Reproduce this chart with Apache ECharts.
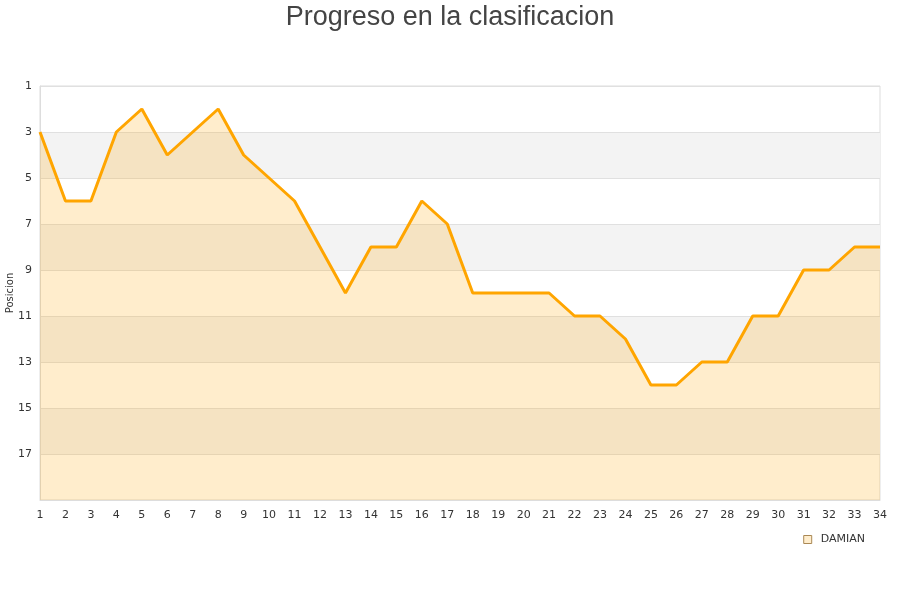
<!DOCTYPE html>
<html><head><meta charset="utf-8">
<script src="https://cdn.jsdelivr.net/npm/echarts@6/dist/echarts.min.js"></script>
<style>html,body{margin:0;padding:0;background:#fff}#c{width:900px;height:600px}</style>
</head><body><div id="c"></div>
<script>
const jornadas = ['1','2','3','4','5','6','7','8','9','10','11','12','13','14','15','16','17','18','19','20','21','22','23','24','25','26','27','28','29','30','31','32','33','34'];
const posiciones = [3,6,6,3,2,4,3,2,4,5,6,8,10,8,8,6,7,10,10,10,10,11,11,12,14,14,13,13,11,11,9,9,8,8];
const seriesName = 'DAMIAN';
const titleText = 'Progreso en la clasificacion';
const yName = 'Posicion';

const chart = echarts.init(document.getElementById('c'), null, {renderer:'canvas'});
chart.setOption({
  animation:false,
  backgroundColor:'#fff',
  title:{text:titleText,left:'center',top:-1,textStyle:{fontFamily:'Liberation Sans, Arial, sans-serif',fontSize:27,fontWeight:'normal',color:'#444'}},
  grid:{left:40,right:20,top:86,bottom:100,containLabel:false,outerBoundsMode:'none',show:true,borderColor:'#ddd',borderWidth:1,backgroundColor:'transparent'},
  legend:{right:30,top:529,itemWidth:8,itemHeight:8,icon:'rect',textStyle:{fontFamily:'DejaVu Sans',fontSize:11,color:'#333',padding:[0,0,0,4]},
    data:[{name:seriesName,itemStyle:{color:'rgba(255,165,0,0.2)',borderColor:'#aa8855',borderWidth:1}}]},
  xAxis:{type:'category',data:jornadas,boundaryGap:false,
    axisLine:{lineStyle:{color:'#ddd'}},axisTick:{show:false},
    axisLabel:{fontFamily:'DejaVu Sans',fontSize:11,color:'#333',margin:10,interval:0},
    splitLine:{show:false}},
  yAxis:{type:'value',inverse:true,min:1,max:19,interval:2,name:yName,nameLocation:'middle',nameGap:25,nameMoveOverlap:false,
    nameTextStyle:{fontFamily:'DejaVu Sans',fontSize:10,color:'#333'},
    axisLine:{show:true,lineStyle:{color:'#ddd'}},axisTick:{show:false},
    axisLabel:{fontFamily:'DejaVu Sans',fontSize:11,color:'#333',margin:8,formatter:v=>v===19?'':String(v)},
    splitLine:{lineStyle:{color:'#e0e0e0'}},
    splitArea:{show:true,areaStyle:{color:['rgba(255,255,255,0)','#f3f3f3']}}},
  series:[{name:seriesName,type:'line',data:posiciones,showSymbol:false,symbol:'none',
    lineStyle:{color:'#FFA500',width:3},itemStyle:{color:'#FFA500'},
    areaStyle:{color:'rgba(255,165,0,0.2)',opacity:1,origin:'end'}}]
});
</script></body></html>
